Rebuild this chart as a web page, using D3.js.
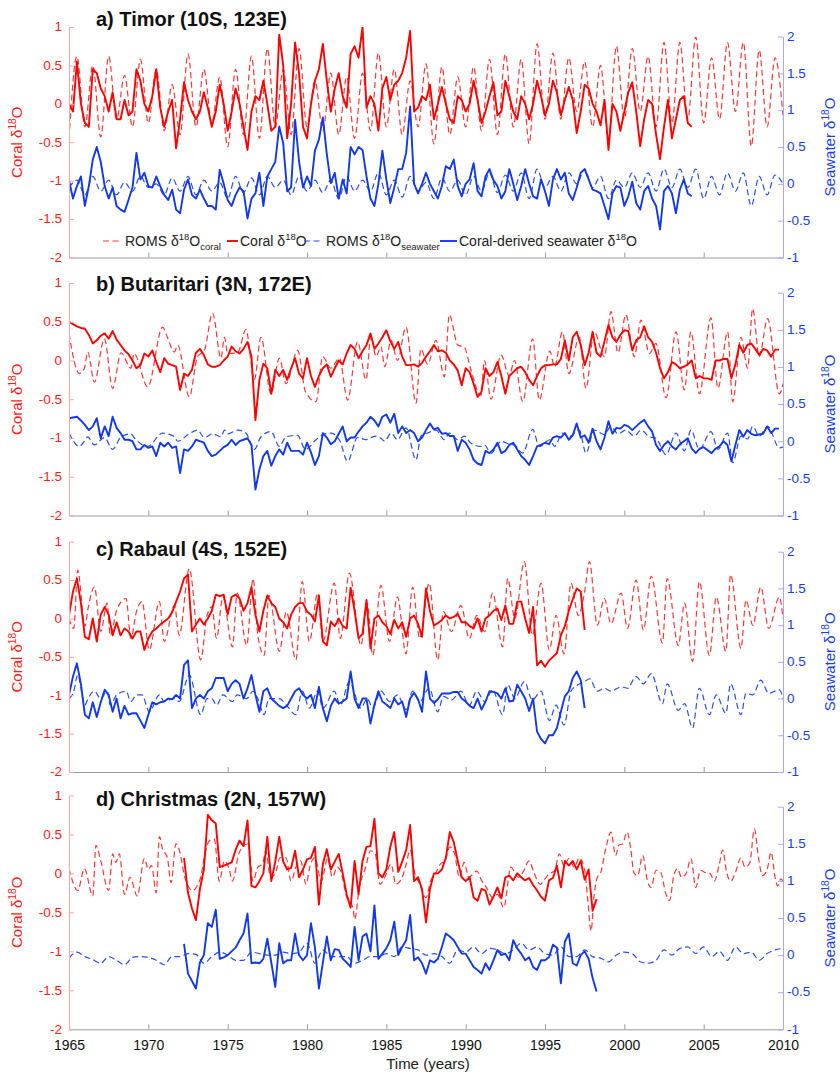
<!DOCTYPE html>
<html>
<head>
<meta charset="utf-8">
<script src="https://cdn.jsdelivr.net/npm/d3@7/dist/d3.min.js"></script>
<style>
html,body{margin:0;padding:0;background:#fff;}
svg{display:block;}
text{font-family:"Liberation Sans",Arial,Helvetica,sans-serif;}
</style>
</head>
<body>
<svg id="chart" width="840" height="1073"></svg>
<script>
// ---------------- DATA ----------------
const xTicks=[1965,1970,1975,1980,1985,1990,1995,2000,2005,2010];
const leftTicks=[1,0.5,0,-0.5,-1,-1.5,-2];
const rightTicks=[2,1.5,1,0.5,0,-0.5,-1];
const panelTitles=["a) Timor (10S, 123E)","b) Butaritari (3N, 172E)","c) Rabaul (4S, 152E)","d) Christmas (2N, 157W)"];

// Timor: ROMS half-yearly (start 1965.0, step 0.5), coral quarterly (start 1965.0, step 0.25)
const timorRomsCoral=[-0.45,0.62,-0.3,0.5,-0.43,0.62,-0.2,0.37,-0.3,0.58,-0.25,0.45,-0.35,0.25,-0.4,0.65,-0.3,0.45,-0.25,0.35,-0.56,0.45,-0.4,0.62,-0.45,0.72,-0.3,0.45,-0.4,0.72,-0.3,0.3,-0.35,0.4,-0.4,0.35,-0.45,0.4,-0.35,0.66,-0.3,0.45,-0.4,0.3,-0.3,0.52,-0.52,0.48,-0.4,0.35,-0.3,0.48,-0.35,0.58,-0.4,0.65,-0.3,0.58,-0.52,0.78,-0.2,0.66,-0.2,0.6,-0.1,0.55,-0.3,0.5,-0.45,0.75,-0.2,0.72,-0.1,0.62,-0.3,0.8,-0.25,0.8,-0.2,0.87,-0.25,0.6,-0.2,0.8,-0.1,0.8,-0.55,0.7,-0.3,0.6,-0.15];
const timorRomsSw=[-0.05,0.05,-0.15,0.1,-0.1,0.05,-0.15,0.02,-0.1,0.1,-0.05,0.0,-0.15,0.08,-0.1,0.1,-0.15,0.05,-0.1,0.02,-0.2,0.1,-0.12,0.08,-0.15,0.1,-0.05,0.05,-0.15,0.1,-0.1,0.05,-0.12,0.05,-0.2,0.1,-0.1,0.05,-0.1,0.15,-0.15,0.05,-0.18,0.1,-0.1,0.02,-0.2,0.08,-0.1,0.05,-0.15,0.1,-0.1,0.15,-0.12,0.12,-0.1,0.15,-0.2,0.2,-0.05,0.1,-0.1,0.15,0.0,0.2,-0.05,0.1,-0.2,0.05,-0.05,0.15,-0.05,0.15,-0.1,0.2,-0.05,0.2,-0.05,0.2,-0.2,0.1,-0.15,0.15,-0.1,0.15,-0.3,0.1,-0.15,0.12,0.0];
const timorCoral=[
0.0,-0.1,0.55,0.0, -0.25,-0.3,0.45,0.4, 0.2,0.1,-0.1,0.15, -0.2,-0.2,0.05,-0.15, -0.1,0.45,0.3,0.0,
-0.1,0.1,0.45,-0.05, -0.3,-0.1,0.05,-0.58, -0.2,0.28,0.05,-0.1, -0.2,-0.1,0.15,-0.05, -0.3,-0.1,0.25,0.0,
-0.35,-0.1,0.2,0.0, -0.3,-0.6,-0.1,0.1, 0.05,0.3,0.0,-0.35, -0.3,0.9,0.5,-0.45, 0.0,0.8,0.4,-0.3,
-0.45,0.0,0.3,0.45, 0.78,0.3,-0.1,0.2, 0.4,0.1,-0.05,0.65, 0.75,0.6,1.0,-0.05, 0.1,0.0,-0.35,0.2,
0.35,0.05,0.25,0.3, 0.4,0.6,0.95,-0.1, -0.05,0.1,0.05,0.25, -0.2,0.0,0.22,0.0, -0.2,-0.25,0.1,0.05,
-0.1,0.0,0.3,0.05, -0.25,-0.1,0.1,0.28, -0.15,-0.1,0.3,0.1, -0.1,-0.2,0.1,0.0, -0.2,0.0,0.3,0.1,
-0.15,0.0,0.3,0.15, -0.15,0.05,0.22,0.05, -0.38,-0.1,0.25,0.2, 0.0,-0.1,-0.28,0.05, -0.6,0.0,-0.1,-0.35,
-0.1,0.15,0.28,-0.1, -0.55,-0.2,0.05,0.0, -0.4,-0.72,-0.3,0.05, -0.45,-0.2,0.05,0.1, -0.25,-0.3];
const timorCoralSw=[
0.05,-0.2,-0.03,0.1, -0.3,-0.03,0.33,0.5, 0.3,-0.03,-0.2,-0.05, -0.3,-0.35,-0.38,-0.22, -0.05,0.42,0.06,0.15,
-0.03,-0.05,0.1,-0.03, -0.15,-0.22,-0.08,-0.35, -0.4,-0.08,0.06,-0.15, -0.2,-0.08,-0.2,-0.3, -0.3,-0.35,0.19,0.0,
-0.22,-0.3,-0.15,-0.05, -0.1,-0.47,-0.2,-0.13, 0.15,-0.3,0.1,0.2, 0.3,0.78,0.55,-0.1, -0.05,0.87,0.3,-0.05,
0.1,-0.03,0.45,0.6, 0.9,0.4,0.01,0.15, -0.2,0.06,-0.13,0.5, 0.4,0.5,0.46,0.1, -0.2,-0.3,0.0,0.45,
0.06,-0.26,-0.05,0.2, 0.2,0.42,1.05,0.0, -0.13,0.0,0.15,0.0, -0.1,-0.2,-0.03,0.24, 0.2,0.33,-0.03,-0.17,
0.0,0.06,0.28,-0.1, -0.17,0.1,0.2,0.05, -0.03,-0.2,-0.1,0.2, 0.0,-0.22,-0.03,0.2, 0.0,-0.17,-0.2,0.06,
-0.1,-0.3,0.06,0.2, 0.06,0.15,-0.13,-0.22, -0.05,0.15,0.2,0.06, -0.08,-0.1,-0.13,-0.3, -0.48,-0.13,-0.03,-0.05,
-0.3,-0.17,0.03,-0.26, -0.35,-0.1,-0.03,-0.2, -0.3,-0.62,-0.1,-0.03, -0.13,-0.4,-0.08,0.06, -0.13,-0.17];

// Butaritari: ROMS at irregular times, coral quarterly from 1965.0
const butaritariRomsT=[1965.0,1965.65,1965.97,1966.18,1966.6,1967.23,1967.75,1968.28,1968.9,1969.1,1969.96,1970.9,1971.2,1971.64,1971.85,1972.58,1973.1,1973.53,1974.05,1974.58,1974.8,1975.0,1975.63,1976.15,1976.68,1977.1,1977.73,1978.26,1978.68,1979.41,1979.9,1980.57,1980.99,1981.5,1982.04,1982.56,1983.19,1983.72,1984.03,1984.35,1984.66,1984.9,1985.3,1985.7,1986.24,1986.87,1987.18,1987.6,1988.13,1988.66,1988.97,1989.5,1989.92,1990.3,1990.97,1991.18,1991.6,1992.23,1992.75,1993.07,1993.6,1994.22,1994.64,1995.3,1995.6,1996.1,1996.5,1997.16,1997.58,1998.1,1998.74,1999.16,1999.6,2000.1,2000.63,2001.05,2001.58,2001.99,2002.63,2003.26,2003.78,2004.2,2004.73,2005.46,2005.9,2006.51,2006.83,2007.35,2007.77,2008.09,2008.5,2009.03,2009.77,2010.0];
const butaritariRomsCoral=[0.35,-0.17,-0.1,0.11,-0.28,0.28,-0.36,0.1,-0.1,0.09,-0.34,0.43,0.3,0.11,0.2,-0.47,0.05,0.13,0.61,0.03,0.3,0.09,0.1,0.4,-0.25,0.3,-0.43,0.03,-0.3,0.13,-0.4,-0.53,0.05,-0.1,0.03,-0.51,0.24,-0.25,0.32,0.05,0.18,-0.08,0.26,0.0,0.43,-0.55,0.15,-0.05,0.26,-0.21,0.59,0.2,0.17,-0.1,-0.45,0.0,-0.5,0.07,-0.2,0.0,-0.53,0.28,-0.51,0.12,-0.08,0.37,-0.17,0.3,-0.36,0.37,0.05,0.63,0.1,0.59,0.05,0.52,0.09,0.22,-0.48,0.37,-0.38,0.37,-0.43,0.55,-0.36,0.37,-0.53,0.3,-0.1,0.67,0.05,0.54,-0.43,-0.3];
const butaritariRomsSw=[0.11,-0.07,0.0,0.06,-0.05,0.05,-0.11,0.06,0.1,0.05,-0.07,0.11,0.1,0.06,0.0,0.1,0.15,0.05,0.1,0.06,0.15,0.1,0.15,0.11,-0.11,0.06,0.13,-0.07,0.06,0.08,-0.11,0.02,0.09,0.11,0.02,-0.27,0.05,0.02,0.05,0.07,0.04,0.0,0.11,0.02,0.18,-0.25,0.07,0.11,0.15,0.02,0.11,0.02,0.07,-0.02,-0.07,-0.05,-0.16,0.0,-0.04,-0.05,-0.16,0.16,-0.07,0.02,-0.07,0.11,0.06,0.15,-0.16,0.15,0.09,0.2,0.1,0.15,0.07,0.15,0.06,0.04,-0.18,0.11,-0.13,0.15,-0.11,0.13,-0.11,0.11,-0.29,0.07,0.03,0.2,0.07,0.2,-0.09,-0.08];
const butaritariCoral=[
0.5,0.47,0.44,0.42, 0.41,0.33,0.22,0.26, 0.32,0.35,0.28,0.38, 0.27,0.2,0.13,0.08, 0.0,-0.1,-0.06,0.09,
0.05,0.13,-0.02,-0.15, 0.03,-0.04,-0.06,-0.08, -0.38,-0.17,-0.2,-0.12, 0.1,0.15,0.07,-0.05, -0.08,-0.08,-0.06,0.0,
0.05,0.18,0.12,0.09, 0.15,0.24,0.05,-0.77, -0.25,-0.04,-0.1,-0.43, -0.12,-0.2,-0.12,-0.25, -0.1,0.03,-0.17,-0.23,
0.03,-0.2,-0.34,-0.2, -0.1,-0.05,-0.21,-0.1, 0.0,-0.05,0.09,0.2, 0.15,0.03,0.12,0.2, 0.35,0.15,0.22,0.3,
0.39,0.25,0.15,0.24, 0.05,-0.06,-0.06,-0.05, -0.08,-0.03,0.05,0.12, 0.2,0.12,0.13,0.1, 0.0,-0.05,-0.13,-0.32,
-0.1,-0.15,-0.3,-0.47, -0.4,-0.1,-0.2,-0.15, -0.02,-0.2,-0.43,-0.2, -0.15,-0.1,-0.08,-0.15, -0.25,-0.32,-0.2,-0.1,
-0.06,-0.06,-0.05,-0.05, 0.02,0.26,0.0,0.3, 0.37,0.2,-0.06,0.1, 0.37,0.1,0.05,0.25, 0.46,0.3,0.24,0.33,
0.39,0.38,0.13,0.26, 0.3,0.44,0.3,0.24, 0.1,-0.1,-0.23,-0.15, -0.02,-0.05,-0.1,-0.08, -0.05,0.0,-0.23,-0.2,
-0.23,-0.23,-0.25,0.0, 0.0,0.02,0.02,-0.23, -0.05,0.2,0.1,0.2, 0.22,0.15,0.07,0.15, 0.13,0.05,0.14,0.14];
const butaritariCoralSw=[
0.31,0.32,0.33,0.28, 0.22,0.15,0.2,0.31, 0.04,0.2,0.07,0.33, 0.18,0.11,0.02,0.02, 0.0,-0.11,-0.11,-0.05,
-0.09,-0.07,-0.2,-0.02, -0.07,-0.02,-0.09,-0.07, -0.43,-0.11,-0.13,-0.07, 0.02,0.0,-0.02,-0.13, -0.2,-0.18,-0.13,-0.08,
-0.05,0.02,-0.05,0.0, 0.02,0.04,-0.05,-0.65, -0.38,-0.2,-0.13,-0.33, -0.2,-0.11,-0.18,-0.02, -0.13,-0.13,-0.13,-0.18,
-0.02,-0.15,-0.32,-0.2, 0.11,0.05,-0.04,0.0, 0.1,0.2,0.0,0.05, 0.05,0.13,0.2,0.25, 0.33,0.28,0.2,0.33,
0.36,0.25,0.37,0.11, 0.2,0.11,0.15,0.11, 0.0,0.05,0.15,0.24, 0.16,0.18,0.1,0.11, 0.07,0.07,-0.13,0.02,
-0.02,-0.11,-0.25,-0.3, -0.32,-0.13,-0.16,-0.11, -0.02,-0.16,-0.13,-0.05, -0.02,-0.11,-0.2,-0.25, -0.32,-0.2,-0.07,-0.05,
-0.02,-0.04,0.05,0.07, 0.05,0.11,0.02,0.08, 0.24,0.05,0.08,-0.02, 0.17,0.0,-0.11,0.05, 0.27,0.1,0.18,0.17,
0.22,0.2,0.15,0.2, 0.25,0.29,0.2,0.13, -0.05,-0.13,-0.05,0.0, -0.07,-0.11,-0.04,0.0, 0.04,-0.1,-0.16,-0.1,
-0.08,-0.12,-0.16,-0.1, -0.07,0.0,-0.05,-0.27, -0.05,0.15,0.06,0.15, 0.1,0.08,0.09,0.1, 0.2,0.11,0.17,0.17];

// Rabaul
const rabaulRomsT=[1965.0,1965.3,1965.55,1966.0,1966.2,1966.6,1967.0,1967.4,1967.6,1968.0,1968.6,1968.9,1969.25,1969.6,1970.06,1970.7,1971.0,1971.64,1971.95,1972.58,1973.3,1973.7,1974.0,1974.3,1974.7,1975.3,1975.6,1976.2,1976.6,1976.9,1977.3,1977.6,1978.26,1978.7,1979.3,1979.7,1980.15,1980.67,1981.0,1981.72,1982.1,1982.67,1983.4,1983.8,1984.14,1984.66,1985.2,1985.7,1986.24,1986.66,1987.1,1987.7,1988.24,1988.6,1989.1,1989.7,1990.23,1990.7,1991.2,1991.7,1992.33,1992.65,1993.1,1993.7,1994.2,1994.75,1995.27,1995.7,1996.2,1996.64,1997.1,1997.5,1997.8,1998.3,1998.74,1999.16,1999.8,2000.2,2000.74,2001.2,2001.7,2002.4,2002.7,2003.4,2003.8,2004.3,2004.73,2005.36,2005.8,2006.4,2006.7,2007.35,2007.67,2008.1,2008.6,2009.1,2009.77,2010.0];
const rabaulRomsCoral=[0.0,-0.13,0.63,-0.1,0.13,0.41,-0.17,0.2,-0.22,0.1,0.26,-0.26,0.09,0.22,-0.41,0.22,-0.3,0.17,-0.22,0.65,-0.54,0.04,0.15,-0.26,0.28,-0.37,0.33,-0.35,0.52,-0.22,-0.48,0.3,-0.43,0.09,-0.54,0.48,-0.3,0.33,-0.3,0.46,-0.26,0.59,-0.35,0.2,-0.48,0.43,-0.3,0.28,-0.46,0.41,-0.26,0.46,-0.54,0.09,-0.17,0.17,-0.26,0.04,-0.17,0.33,-0.37,0.52,0.0,0.74,-0.22,0.46,-0.41,0.04,-0.46,0.46,0.04,0.35,0.74,-0.09,0.26,-0.07,0.33,-0.13,0.5,-0.15,0.55,-0.32,0.52,-0.35,0.2,-0.56,0.48,-0.48,0.28,-0.43,0.57,-0.39,0.24,-0.09,0.41,-0.13,0.28,0.0];
const rabaulRomsSw=[0.0,0.1,0.32,-0.09,0.0,0.1,0.0,0.1,-0.09,0.05,0.1,-0.04,0.05,0.05,-0.18,0.05,-0.04,0.0,-0.04,0.32,-0.22,0.0,0.0,-0.09,0.05,-0.04,0.05,0.0,0.1,0.0,-0.22,0.0,0.0,-0.09,-0.22,0.1,-0.13,0.1,-0.13,0.1,-0.09,0.23,-0.13,0.0,-0.13,0.1,-0.04,0.05,-0.15,0.1,-0.04,0.14,-0.18,0.03,-0.02,0.1,-0.09,0.1,-0.04,0.12,-0.22,0.19,0.0,0.23,-0.02,0.1,-0.3,-0.09,-0.36,0.1,0.19,0.23,0.27,0.1,0.14,0.1,0.16,0.14,0.3,0.2,0.34,-0.07,0.2,-0.16,-0.07,-0.4,0.14,-0.22,0.05,-0.2,0.2,-0.22,0.07,0.05,0.25,0.07,0.12,0.0];
const rabaulCoral=[
0.04,0.35,0.52,0.2, -0.24,-0.27,0.0,-0.3, 0.05,0.15,0.05,-0.22, -0.05,-0.22,-0.13,-0.17, -0.26,-0.17,-0.17,-0.41,
-0.26,-0.17,-0.13,-0.08, -0.04,0.0,0.08,0.22, 0.35,0.52,0.57,-0.17, -0.08,0.0,-0.08,0.0, 0.1,0.31,0.29,0.31,
0.05,0.28,0.31,0.26, 0.1,0.2,0.41,0.05, -0.17,0.1,0.3,0.2, 0.15,0.0,-0.05,-0.13, 0.05,0.15,0.2,0.2,
0.09,0.05,-0.04,0.3, -0.3,-0.35,-0.04,-0.1, 0.0,-0.1,-0.13,0.4, 0.1,-0.26,-0.2,0.24, -0.39,0.0,0.04,-0.05,
-0.1,-0.2,-0.02,-0.13, -0.05,-0.24,0.0,0.04, -0.07,-0.24,0.39,0.1, -0.09,-0.06,-0.02,0.04, 0.0,0.02,0.06,-0.05,
-0.05,-0.1,-0.13,0.0, -0.17,0.0,0.04,0.1, 0.13,-0.02,0.17,-0.07, -0.07,0.22,0.22,0.0, -0.19,0.15,-0.61,-0.55,
-0.63,-0.55,-0.5,-0.45, -0.22,-0.1,0.1,0.25, 0.39,0.35,-0.15];
const rabaulCoralSw=[
0.05,0.3,0.48,0.2, -0.22,-0.27,-0.05,-0.25, -0.05,0.12,0.05,-0.18, 0.0,-0.27,-0.1,-0.22, -0.2,-0.2,-0.3,-0.4,
-0.22,-0.05,-0.08,-0.05, -0.04,0.0,-0.01,0.05, 0.0,0.46,0.52,-0.13, 0.0,0.05,0.0,0.1, 0.14,0.28,0.28,0.28,
0.1,0.2,0.25,0.2, 0.0,0.14,0.32,0.05, -0.18,0.1,0.14,0.0, -0.05,-0.1,-0.13,-0.1, 0.0,0.1,0.14,0.05,
0.0,0.05,-0.13,0.16, -0.13,-0.31,-0.1,0.0, -0.07,-0.04,0.0,0.37, 0.0,-0.13,0.0,0.0, -0.34,-0.08,0.1,-0.04,
-0.08,-0.13,0.0,-0.08, -0.04,-0.25,0.0,0.08, -0.01,-0.18,0.37,0.0, -0.06,-0.01,0.07,0.07, 0.07,0.09,0.09,0.0,
-0.04,-0.1,-0.13,0.0, -0.15,-0.04,0.1,0.09, 0.07,0.0,0.14,-0.04, -0.03,0.19,0.1,0.0, -0.17,0.0,-0.45,-0.55,
-0.61,-0.5,-0.5,-0.4, -0.18,0.03,0.1,0.28, 0.37,0.25,-0.13];

// Christmas: ROMS coral irregular, ROMS seawater half-yearly from 1965.0, coral quarterly from 1972.25
const christmasRomsT=[1965.0,1965.55,1965.97,1966.5,1966.7,1967.0,1967.5,1967.75,1967.95,1968.17,1968.5,1968.85,1969.3,1969.75,1970.0,1970.2,1970.5,1970.7,1970.9,1971.2,1971.43,1971.74,1971.95,1972.3,1972.8,1973.1,1973.3,1973.53,1973.85,1974.16,1974.47,1974.8,1975.1,1975.3,1975.7,1975.95,1976.3,1976.6,1976.9,1977.2,1977.4,1977.7,1978.0,1978.3,1978.67,1979.0,1979.3,1979.6,1979.94,1980.2,1980.5,1980.9,1981.3,1981.6,1981.9,1982.1,1982.5,1982.9,1983.0,1983.3,1983.7,1984.0,1984.3,1984.6,1984.9,1985.3,1985.6,1986.0,1986.25,1986.5,1986.8,1987.1,1987.5,1987.8,1988.1,1988.4,1988.7,1989.0,1989.3,1989.6,1989.9,1990.2,1990.7,1991.0,1991.3,1991.7,1992.0,1992.4,1992.85,1993.3,1993.6,1994.0,1994.3,1994.7,1995.0,1995.3,1995.6,1995.9,1996.2,1996.5,1996.85,1997.16,1997.5,1997.7,1997.9,1998.1,1998.3,1998.5,1998.8,1999.16,1999.45,1999.65,1999.9,2000.17,2000.4,2000.6,2000.84,2001.16,2001.45,2001.68,2002.0,2002.3,2002.6,2002.84,2003.15,2003.36,2003.6,2003.9,2004.2,2004.5,2004.8,2005.1,2005.4,2005.67,2006.0,2006.2,2006.45,2006.7,2007.0,2007.35,2007.6,2007.9,2008.2,2008.45,2008.7,2009.0,2009.25,2009.5,2009.66,2009.87,2010.0];
const christmasRomsCoral=[0.06,-0.22,0.06,-0.29,0.36,0.16,-0.22,0.25,0.14,0.25,-0.27,-0.05,-0.29,0.19,0.05,0.1,-0.25,0.47,0.31,0.2,-0.12,0.38,0.3,-0.05,-0.22,-0.15,-0.05,0.21,0.42,0.44,-0.1,0.16,0.05,-0.1,0.25,0.34,0.38,-0.1,0.08,0.12,0.29,-0.05,0.0,0.2,0.2,-0.1,0.08,0.16,-0.14,0.1,0.2,-0.1,0.19,-0.05,0.08,0.04,-0.3,-0.44,-0.59,-0.18,0.08,0.29,0.25,-0.14,-0.05,0.12,-0.14,-0.05,0.12,0.3,0.0,-0.14,-0.31,-0.09,0.0,0.12,0.16,0.34,0.25,-0.05,0.14,-0.05,0.03,-0.09,-0.18,-0.31,-0.27,-0.44,0.08,-0.05,0.01,0.16,0.01,-0.14,-0.07,0.0,0.03,0.25,0.1,0.19,0.08,0.2,0.04,-0.35,-0.74,-0.27,-0.05,0.0,0.29,0.53,0.23,0.36,0.38,0.53,0.32,0.01,-0.03,0.23,-0.09,-0.18,0.04,0.01,-0.25,-0.35,0.0,0.06,-0.05,0.0,0.19,-0.18,0.04,0.01,0.0,-0.1,0.13,0.3,0.01,-0.1,0.01,0.2,0.08,0.13,0.57,0.21,-0.03,0.05,0.27,-0.05,-0.16,-0.07,-0.1];
const christmasRomsSw=[-0.04,0.04,-0.02,-0.06,-0.11,-0.02,-0.07,-0.13,-0.03,-0.02,-0.03,-0.07,-0.13,-0.02,-0.02,0.02,0.01,-0.11,-0.02,0.04,0.0,-0.07,-0.07,0.04,0.02,0.0,0.0,0.04,0.02,0.04,0.16,-0.11,0.07,-0.02,-0.02,-0.02,-0.11,-0.07,-0.02,-0.02,0.02,-0.02,0.11,0.09,0.07,0.0,0.02,-0.02,-0.11,0.07,0.04,0.11,0.02,0.09,0.07,0.02,0.07,0.16,0.07,0.11,0.02,0.0,0.11,-0.02,-0.02,0.07,-0.02,-0.04,-0.09,0.0,0.04,0.02,-0.09,-0.11,-0.07,0.07,0.0,0.09,0.11,0.02,0.11,-0.02,0.05,-0.07,0.11,0.02,0.04,-0.07,0.02,0.07,0.09];
const christmasCoral=[
0.2,-0.25,-0.45,
-0.6,-0.2,0.05,0.75, 0.68,0.64,0.08,0.1, 0.12,0.14,0.3,0.42, 0.35,0.68,-0.16,-0.18, -0.1,0.0,0.47,-0.1,
0.15,0.47,0.15,0.05, 0.07,0.29,-0.05,0.05, 0.18,0.2,0.34,-0.4, 0.12,0.31,0.05,0.15, 0.25,0.0,-0.27,-0.44,
0.16,-0.27,0.16,0.34, 0.35,0.7,0.0,-0.05, 0.05,0.34,0.53,0.02, 0.15,0.3,0.62,-0.1, -0.05,-0.2,-0.63,-0.2,
0.0,0.0,0.05,0.2, 0.53,0.4,0.16,-0.05, -0.1,-0.05,-0.31,-0.35, -0.2,-0.22,-0.4,-0.3, -0.18,-0.32,-0.05,-0.03,
-0.09,0.0,-0.05,-0.09, -0.06,-0.15,-0.22,-0.3, -0.35,-0.09,-0.06,0.1, -0.18,0.16,0.1,0.16, 0.05,0.16,-0.08,0.05,
-0.48,-0.33];
const christmasCoralSw=[
0.15,-0.25,-0.35,
-0.45,-0.1,0.0,0.43, 0.38,0.61,-0.05,-0.03, 0.0,0.05,0.1,0.2, 0.29,0.56,-0.11,-0.1, -0.11,-0.05,0.22,-0.1,
-0.43,0.16,-0.11,-0.07, -0.07,0.29,0.0,-0.07, 0.0,0.43,0.1,-0.45, -0.1,0.25,-0.07,0.08, 0.07,-0.05,-0.1,-0.16,
0.38,-0.07,0.25,0.29, 0.05,0.67,-0.05,0.02, 0.09,0.2,0.45,0.0, 0.11,0.2,0.54,-0.07, -0.03,-0.11,-0.25,-0.07,
-0.1,-0.05,0.11,0.29, 0.25,0.2,0.11,0.02, 0.02,-0.07,-0.16,-0.2, -0.25,-0.11,-0.2,-0.07, 0.07,0.0,0.02,-0.07,
0.2,0.09,0.02,-0.07, -0.03,-0.16,-0.2,-0.07, -0.07,-0.03,0.14,0.1, -0.38,0.18,0.29,-0.11, -0.14,0.0,0.05,-0.05,
-0.31,-0.49];

// ---------------- LAYOUT / STYLE ----------------
const X0=69, X1=783;
const layout=[
  {top:27,    bottom:257.5,  rtop:36.5,  titleY:26},
  {top:283,   bottom:515.5,  rtop:292.7, titleY:291},
  {top:541.7, bottom:772,    rtop:551.7, titleY:556},
  {top:795.4, bottom:1029.3, rtop:806.7, titleY:806}
];
const C={red:'#ff0000',redDash:'#ff3636',blue:'#1238ee',blueDash:'#2a4fe4',
         redAxis:'#ffa6a6',blueAxis:'#a9a9ff',gray:'#9c9c9c',redText:'#ff1a1a',blueText:'#1a3ee6'};

function reg(start,step,vals){return vals.map((v,i)=>[start+i*step,v]);}
function pairs(ts,vs){const n=Math.min(ts.length,vs.length);return d3.range(n).map(i=>[ts[i],vs[i]]);}

const panelSeries=[
 [{d:reg(1965,0.5,timorRomsCoral),ax:'L',dash:true},{d:reg(1965,0.25,timorCoral),ax:'L'},
  {d:reg(1965,0.5,timorRomsSw),ax:'R',dash:true},{d:reg(1965,0.25,timorCoralSw),ax:'R'}],
 [{d:pairs(butaritariRomsT,butaritariRomsCoral),ax:'L',dash:true},{d:reg(1965,0.25,butaritariCoral),ax:'L'},
  {d:pairs(butaritariRomsT,butaritariRomsSw),ax:'R',dash:true},{d:reg(1965,0.25,butaritariCoralSw),ax:'R'}],
 [{d:pairs(rabaulRomsT,rabaulRomsCoral),ax:'L',dash:true},{d:reg(1965,0.25,rabaulCoral),ax:'L'},
  {d:pairs(rabaulRomsT,rabaulRomsSw),ax:'R',dash:true},{d:reg(1965,0.25,rabaulCoralSw),ax:'R'}],
 [{d:pairs(christmasRomsT,christmasRomsCoral),ax:'L',dash:true},{d:reg(1972.25,0.25,christmasCoral),ax:'L'},
  {d:reg(1965,0.5,christmasRomsSw),ax:'R',dash:true},{d:reg(1972.25,0.25,christmasCoralSw),ax:'R'}]
];

const svg=d3.select('#chart');
const x=d3.scaleLinear().domain([1965,2010]).range([X0,X1]);
const defs=svg.append('defs');

function rich(sel,parts,base){
  parts.forEach(p=>{
    const t=sel.append('tspan').text(p.t);
    if(p.s==='sup'){t.attr('font-size',base*0.68).attr('dy',-base*0.42);}
    else if(p.s==='sub'){t.attr('font-size',base*0.68).attr('dy',base*0.3);}
    else if(p.back){t.attr('dy',p.back);}
  });
}
function d18(label,base){ // "<label> δ18O"
  return [{t:label+' \u03b4'},{t:'18',s:'sup'},{t:'O',back:base*0.42}];
}

layout.forEach((L,i)=>{
  const yl=d3.scaleLinear().domain([-2,1]).range([L.bottom,L.top]);
  const yr=d3.scaleLinear().domain([-1,2]).range([L.bottom,L.rtop]);
  defs.append('clipPath').attr('id','cp'+i).append('rect')
     .attr('x',X0).attr('y',L.top).attr('width',X1-X0).attr('height',L.bottom-L.top);
  const g=svg.append('g');
  const plot=g.append('g').attr('clip-path',`url(#cp${i})`);
  panelSeries[i].forEach(s=>{
    const y=s.ax==='L'?yl:yr;
    const line=d3.line().x(d=>x(d[0])).y(d=>y(d[1])).curve(s.dash?d3.curveMonotoneX:d3.curveLinear);
    plot.append('path').attr('d',line(s.d)).attr('fill','none')
      .attr('stroke',s.ax==='L'?(s.dash?C.redDash:C.red):(s.dash?C.blueDash:C.blue))
      .attr('stroke-width',s.dash?1.2:1.9)
      .attr('stroke-dasharray',s.dash?'6,3.5':null)
      .attr('stroke-linejoin','round');
  });

  // x axis
  const xa=d3.axisBottom(x).tickValues(xTicks).tickSize(-5).tickSizeOuter(0).tickPadding(10.5)
     .tickFormat(i===3?d3.format('d'):()=> '');
  const gx=g.append('g').attr('transform',`translate(0,${L.bottom})`).call(xa);
  gx.attr('font-family',null).attr('font-size',null);
  gx.select('.domain').attr('stroke',C.gray);
  gx.selectAll('.tick line').attr('stroke',C.gray);
  gx.selectAll('.tick text').attr('fill','#111').attr('font-size',14);

  // left axis
  const la=d3.axisLeft(yl).tickValues(leftTicks).tickSize(-5).tickSizeOuter(0).tickPadding(7).tickFormat(d=>String(d));
  const gl=g.append('g').attr('transform',`translate(${X0},0)`).call(la);
  gl.attr('font-family',null).attr('font-size',null);
  gl.select('.domain').attr('stroke',C.redAxis);
  gl.selectAll('.tick line').attr('stroke',C.redAxis);
  gl.selectAll('.tick text').attr('fill',C.redText).attr('font-size',13.5).attr('dy','0.28em');

  // right axis
  const ra=d3.axisRight(yr).tickValues(rightTicks).tickSize(-5).tickSizeOuter(0).tickPadding(4).tickFormat(d=>String(d));
  const gr=g.append('g').attr('transform',`translate(${X1},0)`).call(ra);
  gr.attr('font-family',null).attr('font-size',null);
  gr.select('.domain').attr('stroke',C.blueAxis);
  gr.selectAll('.tick line').attr('stroke',C.blueAxis);
  gr.selectAll('.tick text').attr('fill',C.blueText).attr('font-size',13.5).attr('dy','0.28em');

  // axis titles
  const lt=g.append('text').attr('transform',`translate(22,${(L.top+L.bottom)/2}) rotate(-90)`)
     .attr('text-anchor','middle').attr('font-size',15).attr('fill',C.redText);
  rich(lt,d18('Coral',15),15);
  const rt=g.append('text').attr('transform',`translate(835,${(L.rtop+L.bottom)/2}) rotate(-90)`)
     .attr('text-anchor','middle').attr('font-size',15).attr('fill',C.blueText);
  rich(rt,d18('Seawater',15),15);

  // title
  g.append('text').attr('x',96).attr('y',L.titleY).attr('font-size',20).attr('font-weight','bold')
     .attr('fill','#111').text(panelTitles[i]);

  if(i===3){
    g.append('text').attr('x',428).attr('y',1069).attr('text-anchor','middle')
     .attr('font-size',15).attr('fill','#222').text('Time (years)');
  }
});

// legend (panel a)
const lg=svg.append('g');
const ly=241, lb=246, fs=14;
const items=[
  {x1:103,x2:122,tx:125,color:C.redDash,dash:true,parts:[{t:'ROMS \u03b4'},{t:'18',s:'sup'},{t:'O',back:fs*0.42},{t:'coral',s:'sub'}]},
  {x1:227,x2:238,tx:240,color:C.red,dash:false,parts:d18('Coral',fs)},
  {x1:304,x2:322,tx:326,color:C.blueDash,dash:true,parts:[{t:'ROMS \u03b4'},{t:'18',s:'sup'},{t:'O',back:fs*0.42},{t:'seawater',s:'sub'}]},
  {x1:440,x2:457,tx:459,color:C.blue,dash:false,parts:d18('Coral-derived seawater',fs)}
];
items.forEach(it=>{
  lg.append('line').attr('x1',it.x1).attr('x2',it.x2).attr('y1',ly).attr('y2',ly)
    .attr('stroke',it.color).attr('stroke-width',it.dash?1.2:1.9).attr('stroke-dasharray',it.dash?'6,3.5':null);
  const t=lg.append('text').attr('x',it.tx).attr('y',lb).attr('font-size',fs).attr('fill','#222');
  rich(t,it.parts,fs);
});
</script>
</body>
</html>
